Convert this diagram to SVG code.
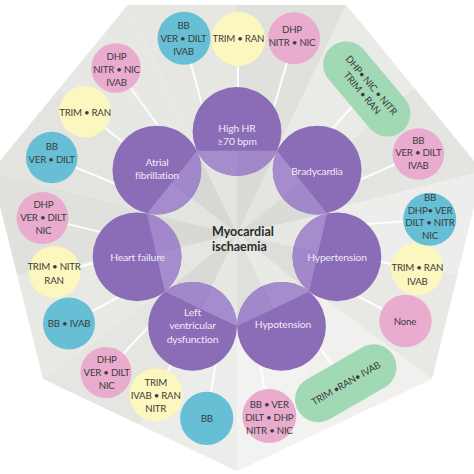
<svg xmlns="http://www.w3.org/2000/svg" width="474" height="474" viewBox="0 0 474 474">
<style>
.sat{font-family:Lato,"Liberation Sans",sans-serif;font-size:9.7px;letter-spacing:-0.25px;fill:#3c3c3c;text-anchor:middle}
.pl{font-family:Lato,"Liberation Sans",sans-serif;font-size:10.3px;letter-spacing:-0.15px;fill:#efe9f7;text-anchor:middle}
.ctr{font-family:Lato,"Liberation Sans",sans-serif;font-size:12.5px;font-weight:bold;fill:#2a2a2a}
.big{fill:#8b6cb7}
.seg{fill:#a58dcd}
.seg2{fill:#a088ca}
.blue{fill:#66bfd5}
.pink{fill:#e9acce}
.yel{fill:#fbf7bf}
.grn{fill:#a2d9b5}
.con{stroke:#ffffff;stroke-width:2;stroke-opacity:0.9;fill:none}
</style>
<g id="background">
<polygon points="237,234 127.7,5 237,5" fill="#e6e6e2"/>
<polygon points="237,234 237,5 346.3,5" fill="#e0e0dc"/>
<polygon points="237,234 346.3,5 414.5,88.2" fill="#eaeae7"/>
<polygon points="237,234 414.5,88.2 482.7,171.4" fill="#e4e4e0"/>
<polygon points="237,234 482.7,171.4 457.3,275.2" fill="#ededeb"/>
<polygon points="237,234 457.3,275.2 432,379" fill="#e8e8e5"/>
<polygon points="237,234 432,379 334.5,425.1" fill="#f0f0ee"/>
<polygon points="237,234 334.5,425.1 237,471.3" fill="#f2f2f0"/>
<polygon points="237,234 237,471.3 140,425.1" fill="#ececea"/>
<polygon points="237,234 140,425.1 43,379" fill="#e5e5e1"/>
<polygon points="237,234 43,379 17.2,275.2" fill="#e8e8e4"/>
<polygon points="237,234 17.2,275.2 -8.7,171.4" fill="#e0e0dc"/>
<polygon points="237,234 -8.7,171.4 59.5,88.2" fill="#e3e3df"/>
<polygon points="237,234 59.5,88.2 127.7,5" fill="#e7e7e3"/>
<polygon points="237,234 196.93,150.8 237,150.8" fill="#e4e4e0"/>
<polygon points="237,234 237,150.8 277.07,150.8" fill="#dadad6"/>
<polygon points="237,234 277.07,150.8 302.05,182.13" fill="#e4e4e0"/>
<polygon points="237,234 302.05,182.13 327.03,213.45" fill="#dadad6"/>
<polygon points="237,234 327.03,213.45 318.11,252.51" fill="#e7e7e3"/>
<polygon points="237,234 318.11,252.51 309.2,291.58" fill="#ddddd9"/>
<polygon points="237,234 309.2,291.58 273.1,308.96" fill="#e9e9e5"/>
<polygon points="237,234 273.1,308.96 237,326.35" fill="#dfdfdb"/>
<polygon points="237,234 237,326.35 200.9,308.96" fill="#e7e7e3"/>
<polygon points="237,234 200.9,308.96 164.8,291.58" fill="#d9d9d5"/>
<polygon points="237,234 164.8,291.58 155.89,252.51" fill="#e5e5e1"/>
<polygon points="237,234 155.89,252.51 146.97,213.45" fill="#d8d8d4"/>
<polygon points="237,234 146.97,213.45 171.95,182.13" fill="#e3e3df"/>
<polygon points="237,234 171.95,182.13 196.93,150.8" fill="#d7d7d3"/>
</g>
<g id="connectors">
<line class="con" x1="211.1" y1="138.5" x2="184" y2="38.3"/>
<line class="con" x1="237.5" y1="136" x2="238.3" y2="39"/>
<line class="con" x1="263.9" y1="141.9" x2="294" y2="38.3"/>
<line class="con" x1="180.5" y1="156.5" x2="116" y2="68"/>
<line class="con" x1="162.2" y1="173.9" x2="85" y2="111.7"/>
<line class="con" x1="148.2" y1="197.3" x2="51.7" y2="157.5"/>
<line class="con" x1="141.3" y1="241.9" x2="42.5" y2="218"/>
<line class="con" x1="141" y1="253.7" x2="54.5" y2="271.5"/>
<line class="con" x1="152.3" y1="279.1" x2="69" y2="323.5"/>
<line class="con" x1="169.6" y1="303.8" x2="106" y2="372.5"/>
<line class="con" x1="193.6" y1="319.7" x2="156" y2="395"/>
<line class="con" x1="221.2" y1="330.7" x2="206.7" y2="418.3"/>
<line class="con" x1="254.4" y1="332.5" x2="269.3" y2="416"/>
<line class="con" x1="294" y1="312" x2="345.8" y2="383.3"/>
<line class="con" x1="335.2" y1="253.1" x2="417" y2="269"/>
<line class="con" x1="324.5" y1="279" x2="405.5" y2="321"/>
<line class="con" x1="336.7" y1="226.4" x2="429.7" y2="219.3"/>
<line class="con" x1="303.4" y1="160.4" x2="367.3" y2="90"/>
<line class="con" x1="328.5" y1="193.7" x2="418.3" y2="154"/>
</g>
<g id="node-center">
<text class="ctr" x="212" y="235.5">Myocardial</text>
<text class="ctr" x="212" y="250.5">ischaemia</text>
</g>
<g id="node-high-hr">
<circle class="big" cx="237" cy="131.5" r="44.4"/>
<path class="seg" d="M196.93,150.8 L237,150.8 L237,175.9 A44.46,44.46 0 0 1 196.93,150.8 Z"/>
<path class="seg2" d="M237,150.8 L277.07,150.8 A44.46,44.46 0 0 1 237,175.9 Z"/>
<text class="pl" x="237" y="131.5">High HR</text>
<text class="pl" x="237" y="145">≥70 bpm</text>
</g>
<g id="node-bradycardia">
<circle class="big" cx="317.14" cy="170.09" r="44.4"/>
<path class="seg" d="M277.07,150.8 L302.05,182.13 L282.42,197.78 A44.46,44.46 0 0 1 277.07,150.8 Z"/>
<path class="seg2" d="M302.05,182.13 L327.03,213.45 A44.46,44.46 0 0 1 282.42,197.78 Z"/>
<text class="pl" x="317" y="174.5">Bradycardia</text>
</g>
<g id="node-hypertension">
<circle class="big" cx="336.93" cy="256.81" r="44.4"/>
<path class="seg" d="M327.03,213.45 L318.11,252.51 L293.64,246.93 A44.46,44.46 0 0 1 327.03,213.45 Z"/>
<path class="seg2" d="M318.11,252.51 L309.2,291.58 A44.46,44.46 0 0 1 293.64,246.93 Z"/>
<text class="pl" x="337" y="261">Hypertension</text>
</g>
<g id="node-hypotension">
<circle class="big" cx="281.47" cy="326.35" r="44.4"/>
<path class="seg" d="M309.2,291.58 L273.1,308.96 L262.21,286.35 A44.46,44.46 0 0 1 309.2,291.58 Z"/>
<path class="seg2" d="M273.1,308.96 L237,326.35 A44.46,44.46 0 0 1 262.21,286.35 Z"/>
<text class="pl" x="283" y="328">Hypotension</text>
</g>
<g id="node-lv-dysfunction">
<circle class="big" cx="192.53" cy="326.35" r="44.4"/>
<path class="seg" d="M237,326.35 L200.9,308.96 L211.79,286.35 A44.46,44.46 0 0 1 237,326.35 Z"/>
<path class="seg2" d="M200.9,308.96 L164.8,291.58 A44.46,44.46 0 0 1 211.79,286.35 Z"/>
<text class="pl" x="192.5" y="316">Left</text>
<text class="pl" x="192.5" y="329">ventricular</text>
<text class="pl" x="192.5" y="342.5">dysfunction</text>
</g>
<g id="node-heart-failure">
<circle class="big" cx="137.07" cy="256.81" r="44.4"/>
<path class="seg" d="M164.8,291.58 L155.89,252.51 L180.36,246.93 A44.46,44.46 0 0 1 164.8,291.58 Z"/>
<path class="seg2" d="M155.89,252.51 L146.97,213.45 A44.46,44.46 0 0 1 180.36,246.93 Z"/>
<text class="pl" x="137.5" y="260.5">Heart failure</text>
</g>
<g id="node-atrial-fibrillation">
<circle class="big" cx="156.86" cy="170.09" r="44.4"/>
<path class="seg" d="M146.97,213.45 L171.95,182.13 L191.58,197.78 A44.46,44.46 0 0 1 146.97,213.45 Z"/>
<path class="seg2" d="M171.95,182.13 L196.93,150.8 A44.46,44.46 0 0 1 191.58,197.78 Z"/>
<text class="pl" x="157" y="166">Atrial</text>
<text class="pl" x="157" y="179">fibrillation</text>
</g>
<g id="sat-hhr-1"><circle class="blue" cx="184" cy="38.3" r="26.5"/>
<text class="sat" x="183.5" y="28.5">BB</text><text class="sat" x="183.5" y="41.5">VER • DILT</text><text class="sat" x="183.5" y="54.5">IVAB</text></g>
<g id="sat-hhr-2"><circle class="yel" cx="238.3" cy="39" r="27"/>
<text class="sat" x="238.3" y="42">TRIM • RAN</text></g>
<g id="sat-hhr-3"><circle class="pink" cx="294" cy="38.3" r="26"/>
<text class="sat" x="292" y="32.5">DHP</text><text class="sat" x="292" y="45.5">NITR • NIC</text></g>
<g id="sat-af-1"><circle class="pink" cx="116" cy="68" r="24.8"/>
<text class="sat" x="116.5" y="60">DHP</text><text class="sat" x="116.5" y="73.3">NITR • NIC</text><text class="sat" x="116.5" y="85.5">IVAB</text></g>
<g id="sat-af-2"><circle class="yel" cx="85" cy="111.7" r="25.8"/>
<text class="sat" x="85" y="116">TRIM • RAN</text></g>
<g id="sat-af-3"><circle class="blue" cx="51.7" cy="157.5" r="25.8"/>
<text class="sat" x="51.7" y="149.5">BB</text><text class="sat" x="51.7" y="163">VER • DILT</text></g>
<g id="sat-hf-1"><circle class="pink" cx="42.5" cy="218" r="26"/>
<text class="sat" x="43.3" y="207.5">DHP</text><text class="sat" x="43.3" y="221">VER • DILT</text><text class="sat" x="43.3" y="234">NIC</text></g>
<g id="sat-hf-2"><circle class="yel" cx="54.5" cy="272" r="26"/>
<text class="sat" x="54" y="270">TRIM • NITR</text><text class="sat" x="54" y="283.5">RAN</text></g>
<g id="sat-hf-3"><circle class="blue" cx="69" cy="323.5" r="26"/>
<text class="sat" x="69" y="327">BB • IVAB</text></g>
<g id="sat-lv-1"><circle class="pink" cx="106" cy="372.5" r="25.6"/>
<text class="sat" x="106.7" y="363">DHP</text><text class="sat" x="106.7" y="376">VER • DILT</text><text class="sat" x="106.7" y="389">NIC</text></g>
<g id="sat-lv-2"><circle class="yel" cx="156" cy="395" r="26.6"/>
<text class="sat" x="155.7" y="386">TRIM</text><text class="sat" x="155.7" y="399">IVAB • RAN</text><text class="sat" x="155.7" y="412">NITR</text></g>
<g id="sat-lv-3"><circle class="blue" cx="206.7" cy="418.3" r="26.6"/>
<text class="sat" x="206.7" y="422">BB</text></g>
<g id="sat-hypo-1"><circle class="pink" cx="269.3" cy="416" r="27"/>
<text class="sat" x="269.3" y="407.5">BB • VER</text><text class="sat" x="269.3" y="420.8">DILT • DHP</text><text class="sat" x="269.3" y="433.5">NITR • NIC</text></g>
<g id="sat-hypo-2" transform="translate(345.8,383.3) rotate(-30)"><rect class="grn" x="-55" y="-23" width="110" height="46" rx="23"/>
<text class="sat" x="0" y="3.5">TRIM •RAN• IVAB</text></g>
<g id="sat-hyper-1"><circle class="yel" cx="417" cy="269" r="26.2"/>
<text class="sat" x="417.3" y="271">TRIM • RAN</text><text class="sat" x="417.3" y="284.5">IVAB</text></g>
<g id="sat-hyper-2"><circle class="pink" cx="405.5" cy="321" r="26.2"/>
<text class="sat" x="405" y="324.5">None</text></g>
<g id="sat-hyper-3"><circle class="blue" cx="429.7" cy="219.3" r="26.5"/>
<text class="sat" x="430" y="201">BB</text><text class="sat" x="430" y="213.5">DHP• VER</text><text class="sat" x="430" y="226">DILT • NITR</text><text class="sat" x="430" y="238.8">NIC</text></g>
<g id="sat-brady-1" transform="translate(366.8,89) rotate(50)"><rect class="grn" x="-55" y="-23" width="110" height="46" rx="23"/>
<text class="sat" x="0" y="-2.5">DHP• NIC • NITR</text><text class="sat" x="0" y="9.5">TRIM • RAN</text></g>
<g id="sat-brady-2"><circle class="pink" cx="418.3" cy="154" r="25.8"/>
<text class="sat" x="418.3" y="143.5">BB</text><text class="sat" x="418.3" y="156.2">VER • DILT</text><text class="sat" x="418.3" y="169">IVAB</text></g>
</svg>
